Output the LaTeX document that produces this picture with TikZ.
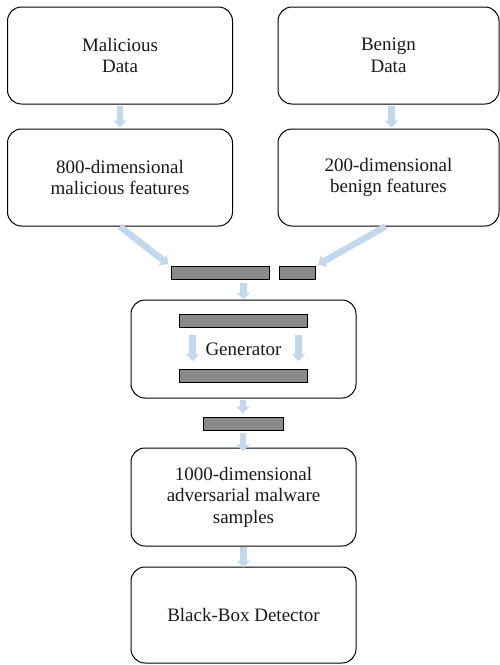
\documentclass[tikz,border=0pt]{standalone}
\usepackage{fontspec}
\setmainfont{Liberation Serif}
\usepackage{tikz}
\usetikzlibrary{arrows.meta, calc, positioning}
\definecolor{arrowblue}{RGB}{194,216,236}
\definecolor{bargray}{RGB}{138,138,138}
\definecolor{textgray}{RGB}{25,25,25}
\tikzstyle{block} = [rectangle, draw=black, line width=1pt, rounded corners=14pt, minimum width=225pt, minimum height=97pt, align=center, text=textgray, font=\fontsize{19}{21.5}\selectfont]
\tikzstyle{bar} = [rectangle, draw=black, line width=0.8pt, fill=bargray, minimum height=13pt, inner sep=0pt]
\tikzstyle{line} = [draw=arrowblue, line width=6.5pt, -{Triangle[width=13pt,length=7pt]}]

\begin{document}
\begin{tikzpicture}[x=1pt, y=-1pt]
    \useasboundingbox (0,0) rectangle (500,665);
    % Place nodes
    \node [block] (maldata) at (120,55.5) {Malicious\\Data};
    \node [block, minimum width=221pt] (bendata) at (388.5,55.5) {Benign\\Data};
    \node [block] (malfeat) at (120,177.5) {800-dimensional\\malicious features};
    \node [block, minimum width=221pt] (benfeat) at (388.5,177.5) {200-dimensional\\benign features};

    \node [bar, minimum width=98pt] (malbar) at (220,273) {};
    \node [bar, minimum width=36pt] (benbar) at (297,273) {};

    \node [block, minimum height=98pt] (generator) at (243.5,349) {Generator};
    \node [bar, minimum width=128pt] (inbar) at (243,320.5) {};
    \node [bar, minimum width=128pt] (outbar) at (243,376) {};

    \node [bar, minimum width=80pt] (advbar) at (243,423.5) {};
    \node [block, minimum height=98pt] (advsamples) at (243.5,497) {1000-dimensional\\adversarial malware\\samples};
    \node [block, minimum height=96pt] (detector) at (243.5,615) {Black-Box Detector};

    % Draw edges
    \path [line, shorten <=1pt, shorten >=1pt] (maldata) -- (malfeat);
    \path [line, shorten <=1pt, shorten >=1pt] ([xshift=3pt]bendata.south) -- ([xshift=3pt]benfeat.north);
    \path [line, shorten >=3pt] (malfeat.south) -- (malbar.north west);
    \path [line, shorten >=3pt] ([xshift=-3pt]benfeat.south) -- (benbar.north east);
    \path [line, shorten <=3pt, shorten >=0pt] (malbar.south -| generator) -- (generator.north);
    \path [line, shorten <=8pt, shorten >=8pt] ($(inbar.south west)+(14,0)$) -- ($(outbar.north west)+(14,0)$);
    \path [line, shorten <=8pt, shorten >=8pt] ($(inbar.south east)+(-9,0)$) -- ($(outbar.north east)+(-9,0)$);
    \path [line, shorten <=1pt, shorten >=3pt] (generator.south -| advbar) -- (advbar);
    \path [line, shorten <=3pt, shorten >=-4pt] (advbar) -- (advsamples.north -| advbar);
    \path [line, shorten >=-1pt] (advsamples) -- (detector);
\end{tikzpicture}
\end{document}
